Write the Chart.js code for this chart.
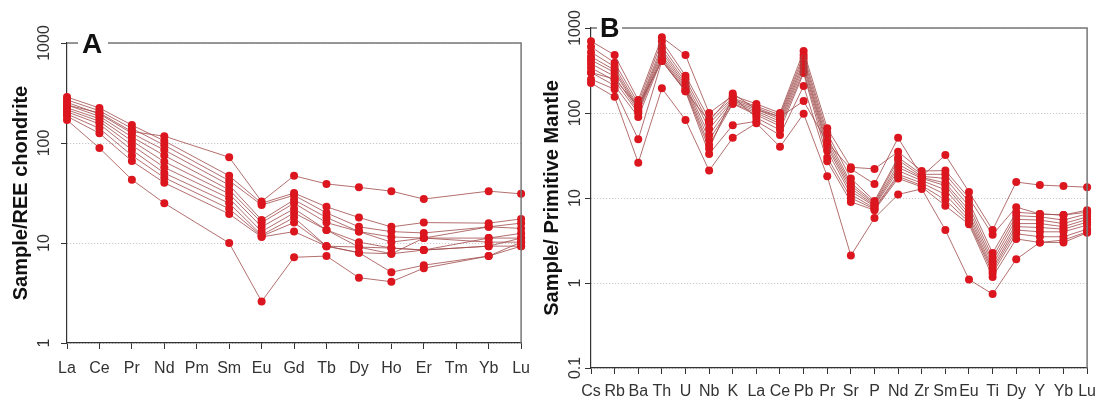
<!DOCTYPE html>
<html>
<head>
<meta charset="utf-8">
<script src="https://cdn.jsdelivr.net/npm/chart.js@4.4.0/dist/chart.umd.min.js"></script>
<style>
  body { margin: 0; background: #fff; width: 1104px; height: 399px; overflow: hidden; position: relative; }
  canvas { position: absolute; top: 0; }
  #chartA { left: 0; }
  #chartB { left: 540px; }
</style>
</head>
<body>
<canvas id="chartA" width="540" height="399"></canvas>
<canvas id="chartB" width="564" height="399"></canvas>
<script>
/******************************************************************************
  REE + SPIDER DIAGRAMS
******************************************************************************/
// DATA - panel A (chondrite normalised REE), null = element not analysed
var reeLabels = ['La', 'Ce', 'Pr', 'Nd', 'Pm', 'Sm', 'Eu', 'Gd', 'Tb', 'Dy', 'Ho', 'Er', 'Tm', 'Yb', 'Lu']
var reeTicks = [1, 10, 100, 1000]
var reeSamples = [
  [240, 200, 130, 117, null, 72, 26, 47, 39, 36, 33, 27.5, null, 33, 31],
  [288, 224, 151, 105, null, 47, 25, 31.6, 23, 18, 14.5, 16, null, 15.8, 17.4],
  [270, 210, 140, 95, null, 42, 24, 30, 20, 14.5, 13, 12.6, null, 14.5, 15.8],
  [255, 195, 125, 85, null, 38, 17, 27, 18, 13, 11.5, 11.2, null, 14.5, 14],
  [240, 185, 115, 75, null, 34, 16, 25, 16, 13, 10.2, 11.2, null, 11.2, 12.5],
  [225, 175, 105, 65, null, 31, 14.5, 22, 13.5, 10.2, 8.9, 8.5, null, 11.2, 11.2],
  [215, 165, 95, 57, null, 28, 13, 20, 13.5, 9.1, 7.8, 11.2, null, 10.2, 10.2],
  [205, 155, 85, 50, null, 25, 12, 18, 9.3, 8, 7.8, 8.5, null, 9.3, 11.2],
  [195, 140, 75, 45, null, 22, 11.7, 16, 9.3, 8, 5.1, 6, null, 7.4, 9.3],
  [185, 125, 66, 40, null, 19.5, 11.5, 13, 9.3, 9.1, 8.9, 8.5, null, 9.3, 9.3],
  [170, 89, 43, 25, null, 10, 2.6, 7.2, 7.4, 4.5, 4.1, 5.6, null, 7.4, 10.2]
]

// DATA - panel B (primitive mantle normalised)
var pmLabels = ['Cs', 'Rb', 'Ba', 'Th', 'U', 'Nb', 'K', 'La', 'Ce', 'Pb', 'Pr', 'Sr', 'P', 'Nd', 'Zr', 'Sm', 'Eu', 'Ti', 'Dy', 'Y', 'Yb', 'Lu']
var pmTicks = [0.1, 1, 10, 100, 1000]
var pmSamples = [
  [300, 250, 120, 410, 180, 80, 170, 110, 90, 138, 45, 22, 14.6, 51, 18, 32, 11.8, 4.2, 15.4, 14.2, 13.8, 13.4],
  [700, 480, 142, 780, 480, 100, 160, 128, 100, 535, 66, 23, 22, 35, 20.8, 21, 10, 3.7, 7.8, 6.5, 6.3, 7.2],
  [600, 390, 130, 700, 275, 85, 150, 120, 95, 480, 58, 17, 9.2, 30, 19, 19, 9, 2.25, 6.8, 6.5, 6.3, 6.8],
  [520, 350, 120, 615, 250, 75, 145, 115, 90, 440, 52, 15, 8.8, 28, 18, 17, 8, 2.0, 6.2, 6.0, 5.5, 6.5],
  [460, 320, 115, 560, 230, 65, 140, 110, 85, 400, 47, 14, 8.5, 25, 17.5, 15, 7.2, 1.8, 5.6, 5.5, 5.0, 6.0],
  [420, 300, 110, 520, 215, 55, 135, 105, 80, 370, 43, 13, 8.2, 23, 17, 14, 6.5, 1.65, 5.0, 5.0, 4.6, 5.6],
  [380, 270, 105, 480, 205, 48, 130, 100, 75, 340, 40, 12, 8.0, 21, 16, 12.5, 6.0, 1.5, 4.6, 4.5, 4.3, 5.2],
  [340, 240, 100, 450, 195, 42, 128, 95, 70, 310, 36, 11, 7.6, 19, 15, 11, 5.5, 1.4, 4.2, 4.0, 4.0, 4.8],
  [300, 210, 90, 430, 185, 38, 155, 88, 63, 295, 30, 10, 7.4, 18, 14, 9.5, 5.2, 1.3, 3.8, 3.5, 3.5, 4.3],
  [250, 190, 49, 410, 180, 33, 72, 80, 55, 208, 27, 9, 7.2, 17, 13.5, 8.1, 4.9, 1.18, 3.3, 3.0, 3.0, 3.9],
  [225, 155, 26, 195, 83, 21, 51, 76, 40, 98, 18, 2.1, 5.8, 11, 12.8, 4.2, 1.1, 0.74, 1.9, 3.0, 3.2, 4.0]
]

// COLORS
var lineColor = 'rgba(160,75,75,0.8)'
var dotColor = '#dc161e'
var axisColor = '#333'
var frameColor = '#777'
var gridColor = '#bdbdbd'
var textColor = '#333'

Chart.defaults.font.family = '"Liberation Sans", Arial, sans-serif'

// top/right box line + panel letter sitting on it
var frame = {
  id: 'frame',
  afterDraw: function (chart) {
    var a = chart.chartArea
    var ctx = chart.ctx
    var o = chart.options.plugins.frame
    ctx.save()
    ctx.strokeStyle = frameColor
    ctx.lineWidth = 1.5
    ctx.beginPath()
    ctx.moveTo(a.left, a.top)
    ctx.lineTo(a.right, a.top)
    ctx.lineTo(a.right, a.bottom)
    ctx.stroke()
    ctx.fillStyle = '#fff'
    ctx.fillRect(a.left + o.gapFrom, a.top - 4, o.gapWidth, 8)
    ctx.fillStyle = '#111'
    ctx.font = 'bold ' + o.size + 'px "Liberation Sans", Arial, sans-serif'
    ctx.textBaseline = 'alphabetic'
    ctx.fillText(o.letter, a.left + o.letterX, a.top + o.letterY)
    ctx.restore()
  }
}

function panel (id, labels, rows, ticks, title, box) {
  var datasets = rows.map(function (row) {
    return {
      data: row,
      borderColor: lineColor,
      borderWidth: 1,
      backgroundColor: dotColor,
      pointBackgroundColor: dotColor,
      pointBorderWidth: 0,
      pointRadius: 4,
      spanGaps: true,
      clip: false,
      tension: 0
    }
  })
  return new Chart(document.getElementById(id), {
    type: 'line',
    data: { labels: labels, datasets: datasets },
    options: {
      responsive: false,
      animation: false,
      devicePixelRatio: 1,
      layout: { padding: { left: 0, right: box.right, top: box.top, bottom: 0 } },
      plugins: {
        legend: { display: false },
        tooltip: { enabled: false },
        frame: box.frame
      },
      scales: {
        x: {
          grid: { drawOnChartArea: false, tickLength: 6, tickColor: axisColor, tickWidth: 1 },
          border: { color: axisColor, width: 1.2 },
          ticks: { color: textColor, font: { size: 16 }, padding: box.xPad, autoSkip: false, maxRotation: 0 },
          afterFit: function (s) { s.height = box.xHeight }
        },
        y: {
          type: 'logarithmic',
          min: ticks[0],
          max: ticks[ticks.length - 1],
          afterBuildTicks: function (s) {
            s.ticks = ticks.map(function (v) { return { value: v } })
          },
          afterFit: function (s) { s.width = box.yWidth },
          grid: { color: gridColor, lineWidth: 1, tickLength: 6, tickColor: axisColor, tickBorderDash: [] },
          border: { color: axisColor, width: 1.2, dash: [1, 2] },
          ticks: {
            color: textColor,
            font: { size: 16 },
            minRotation: 90,
            maxRotation: 90,
            crossAlign: 'center',
            padding: box.yPad,
            autoSkip: false,
            callback: function (v) { return String(v) }
          },
          title: {
            display: true,
            text: title,
            color: '#111',
            font: { size: 20, weight: 'bold' },
            padding: { top: box.titlePad, bottom: 0 }
          }
        }
      }
    },
    plugins: [frame]
  })
}

panel('chartA', reeLabels, reeSamples, reeTicks, 'Sample/REE chondrite', {
  right: 12, top: 43, xHeight: 56, yWidth: 67, xPad: 10, yPad: -1, titlePad: 9,
  frame: { letter: 'A', size: 28, gapFrom: 11, gapWidth: 30, letterX: 15, letterY: 10 }
})

panel('chartB', pmLabels, pmSamples, pmTicks, 'Sample/ Primitive Mantle', {
  right: 9, top: 28, xHeight: 31, yWidth: 51, xPad: 8, yPad: -8, titlePad: 0,
  frame: { letter: 'B', size: 27, gapFrom: 6, gapWidth: 25, letterX: 9, letterY: 9 }
})
</script>
</body>
</html>
